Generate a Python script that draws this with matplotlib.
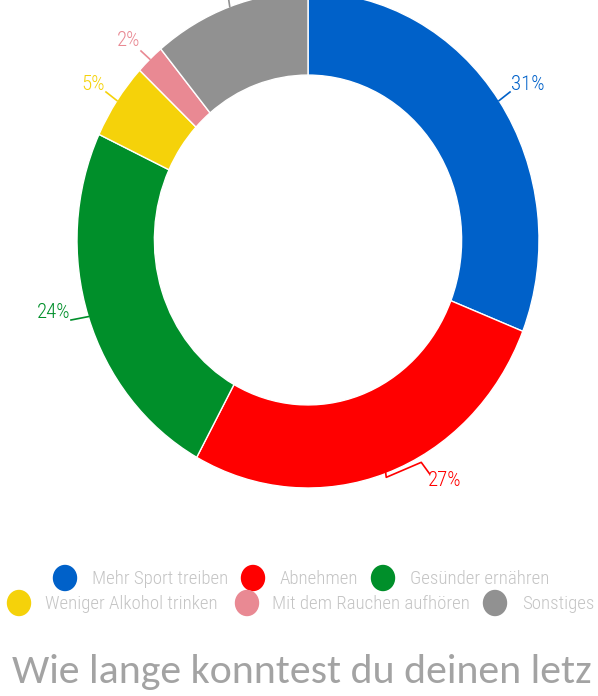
import matplotlib
matplotlib.use("Agg")
import matplotlib.pyplot as plt
from matplotlib import font_manager
from matplotlib.lines import Line2D
from matplotlib.patches import Ellipse
import numpy as np

categories = ["Mehr Sport treiben", "Abnehmen", "Gesünder ernähren",
              "Weniger Alkohol trinken", "Mit dem Rauchen aufhören", "Sonstiges"]
values = [31, 27, 24, 5, 2, 11]
colors = ["#0061c9", "#ff0000", "#008f2a", "#f5d20a", "#e98993", "#919191"]
title_text = "Wie lange konntest du deinen letz"

fams = {f.name for f in font_manager.fontManager.ttflist}

def pick(prefs, default):
    for p in prefs:
        if p in fams:
            return p
    return default

narrow = pick(["Roboto Condensed", "Barlow Condensed", "Archivo Narrow",
               "Asap Condensed", "DejaVu Sans"], "DejaVu Sans")
title_font = pick(["Carlito", "Open Sans"], "DejaVu Sans")

W, H = 598, 696
fig = plt.figure(figsize=(W / 100, H / 100), dpi=100)

def fx(px):
    return px / W

def fy(py):
    return 1 - py / H

cx, cy, rx, ry = 308, 240, 231, 248
ax = fig.add_axes([fx(cx - rx), fy(cy + ry), 2 * rx / W, 2 * ry / H])
wedges, _ = ax.pie(values, colors=colors, startangle=90, counterclock=False,
                   radius=1.0, wedgeprops=dict(width=0.335, edgecolor="white", linewidth=1.0))
ax.set_aspect("auto")
ax.set_xlim(-1, 1)
ax.set_ylim(-1, 1)
ax.axis("off")

def to_px(xd, yd):
    return cx + xd * rx, cy - yd * ry

# legend (manual, two centered rows)
leg_items = [(0, 65, 92, 578, 135), (1, 253, 280, 578, 77), (2, 383, 410, 578, 138),
             (3, 19, 45, 603, 175), (4, 247, 272, 603, 195), (5, 495, 522, 603, 71)]
leg_texts = []
for i, mx, tx, row, _w in leg_items:
    fig.add_artist(Ellipse((fx(mx), fy(row)), 23 / W, 25 / H,
                           transform=fig.transFigure, color=colors[i]))
    tt = fig.text(fx(tx), fy(row + 1), categories[i], color="#c4c4c4",
                  family=narrow, fontweight="light", ha="left", va="center", fontsize=13)
    leg_texts.append(tt)

# labels
label_pos = {0: (511, 85, "left"), 1: (428, 480, "left"), 2: (70, 313, "right"),
             3: (105, 85, "right"), 4: (140, 40, "right")}
total = sum(values)
cum = 0
for i, v in enumerate(values):
    mid = (cum + v / 2) / total
    cum += v
    ang = np.deg2rad(90 - 360 * mid)
    sx, sy = to_px(np.cos(ang), np.sin(ang))
    if i == 5:
        xs, ys = [sx, sx - 3], [sy, sy - 20]
    elif i == 1:
        xs, ys = [sx - 1, sx, sx + 35, sx + 43], [sy - 4, sy + 4, sy - 11, sy]
    else:
        tx, ty, ha = label_pos[i]
        ex = tx - 1 if ha == "left" else tx + 1
        ey = ty + 7
        if i == 4:
            ey = ty + 11
        xs, ys = [sx, ex], [sy, ey]
    fig.add_artist(Line2D([fx(x) for x in xs], [fy(y) for y in ys],
                          transform=fig.transFigure, color=colors[i], lw=1.2))
    if i in label_pos:
        tx, ty, ha = label_pos[i]
        fig.text(fx(tx), fy(ty), f"{v}%", color=colors[i], family=narrow,
                 fontweight="light", ha=ha, va="center", fontsize=15)

# title (cropped in the reference)
t = fig.text(fx(12), fy(683), title_text, color="#a3a3a3", fontsize=24,
             family=title_font, ha="left", va="baseline")
fig.canvas.draw()
bb = t.get_window_extent()
t.set_fontsize(24 * 581 / bb.width)

# fit legend size so the texts span about the reference widths
ratios = [it[4] / tt.get_window_extent().width for it, tt in zip(leg_items, leg_texts)]
s = 13 * min(min(ratios) * 1.03, np.mean(ratios))
for tt in leg_texts:
    tt.set_fontsize(s)

fig.savefig("out.png", dpi=100)
